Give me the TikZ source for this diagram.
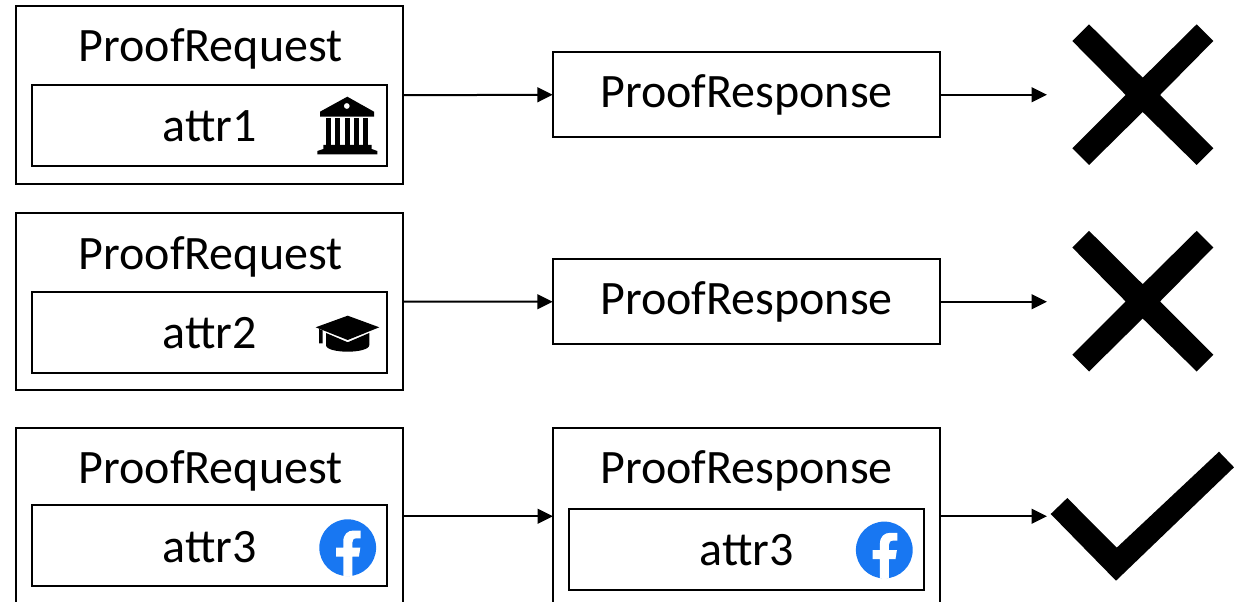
\documentclass[tikz,border=0pt]{standalone}
\usepackage{fontspec}
\setmainfont{Carlito}
\usetikzlibrary{arrows.meta}
\definecolor{fbblue}{RGB}{24,119,242}
\tikzset{
  x=.75pt,y=-.75pt,
  box/.style={draw=black,line width=1.5pt,fill=white,inner sep=0pt,outer sep=0pt},
  outerbox/.style={box,minimum width={387*.75pt},minimum height={177.5*.75pt}},
  innerbox/.style={box,minimum width={355.5*.75pt},minimum height={81*.75pt}},
  respbox/.style={box,minimum width={387.5*.75pt},minimum height={85*.75pt}},
  lbl/.style={anchor=base,inner sep=0pt,font=\fontsize{36}{40}\selectfont},
  conn/.style={line width=1.5pt,-{Triangle[length=11.5pt,width=11pt]}},
  solidmark/.style={fill=black,draw=none},
}
\newcommand{\fbicon}[2]{%
  \begin{scope}[shift={(#1,#2)}]
    \fill[fbblue] (0,0) circle[radius=28.4*.75pt];
    \fill[white] (-4.4,28.6) -- (-4.4,9) -- (-11.7,9) -- (-11.7,0) -- (-4.4,0) -- (-4.4,-6)
      .. controls (-4.4,-13.5) and (0,-17.2) .. (6,-17.2) -- (13,-17.2) -- (13,-9.4) -- (9,-9.4)
      .. controls (5.8,-9.4) and (4.6,-7.7) .. (4.6,-5) -- (4.6,0) -- (12.6,0) -- (11.2,9) -- (4.6,9) -- (4.6,28.6)
      .. controls (1.6,29) and (-1.6,29) .. (-4.4,28.6) -- cycle;
  \end{scope}}
\newcommand{\crossmark}[1]{%
  \fill[solidmark,yshift={-#1*.75pt}] (1089,24.3) -- (1142.7,77.7) -- (1196.7,24.3) -- (1213.3,41) -- (1160,95)
    -- (1213.3,148.3) -- (1196.7,165) -- (1142.7,112) -- (1089,165) -- (1072.3,148.3) -- (1125.7,95)
    -- (1072.3,41) -- cycle;}
\begin{document}
\begin{tikzpicture}
\useasboundingbox (0,0) rectangle (1234,602);
\clip (0,0) rectangle (1234,602);
\fill[white] (0,0) rectangle (1234,602);

% row 1
\node[outerbox] (o1) at (209.25,95.25) {};
\node[innerbox] (i1) at (209.5,125.25) {};
\node[respbox] (r1) at (746.5,94.75) {};
\node[lbl] (t1) at (210.5,62) {ProofRequest};
\node[lbl] (a1) at (209.5,142) {attr1};
\node[lbl] (p1) at (746.5,108) {ProofResponse};
\coordinate (e1) at (1047,94.75);
\draw[conn] (o1.east) -- (r1.west);
\draw[conn] (r1.east) -- (e1);
\crossmark{0}

% row 2
\node[outerbox] (o2) at (209.25,301.5) {};
\node[innerbox] (i2) at (209.5,332.25) {};
\node[respbox] (r2) at (746.5,301.75) {};
\node[lbl] (t2) at (210.5,269) {ProofRequest};
\node[lbl] (a2) at (209.5,348) {attr2};
\node[lbl] (p2) at (746.5,314.5) {ProofResponse};
\coordinate (e2) at (1047,301.75);
\draw[conn] (o2.east) -- (r2.west);
\draw[conn] (r2.east) -- (e2);
\crossmark{206.5}

% row 3
\node[outerbox] (o3) at (209.25,516.25) {};
\node[innerbox] (i3) at (209.5,545.75) {};
\node[outerbox] (r3) at (746.5,516.25) {};
\node[innerbox] (i4) at (746.5,549.5) {};
\node[lbl] (t3) at (210.5,483) {ProofRequest};
\node[lbl] (a3) at (209.5,562) {attr3};
\node[lbl] (p3) at (746.5,483) {ProofResponse};
\node[lbl] (a4) at (746.5,565) {attr3};
\coordinate (e3) at (1047,516.25);
\draw[conn] (o3.east) -- (r3.west);
\draw[conn] (r3.east) -- (e3);
\fill[solidmark] (1050.7,514) -- (1067.3,498) -- (1116.7,547.7) -- (1219,451.7) -- (1234,467.3) -- (1116,580.7) -- cycle;

% bank icon
\fill[solidmark,even odd rule] (347.3,96.7) -- (374,111.7) -- (374,116.7) -- (320,116.7) -- (320,111.7) -- cycle
  (346.8,106) circle[radius=3*.75pt];
\foreach \cx in {328.3,337.5,347,356.2,365.7}
  \fill[solidmark] (\cx-2.5,118.5) rectangle (\cx+2.5,145.5);
\fill[solidmark] (323.3,145) -- (371.7,145) -- (371.7,149) -- (377.3,151) -- (377.3,154.3) -- (317.3,154.3) -- (317.3,151) -- (323.3,149) -- cycle;

% cap icon
\fill[solidmark] (347.7,315.7) -- (379.3,327.3) -- (347.7,340) -- (315.7,327.3) -- cycle;
\fill[solidmark] (326,333) -- (347.7,342.3) -- (369.3,333) -- (369.3,345)
  .. controls (369.3,349.5) and (358,351.7) .. (347.7,351.7)
  .. controls (337,351.7) and (326,349.5) .. (326,345) -- cycle;
\fill[solidmark] (319.2,329) -- (322.7,330.4) -- (322.7,343.3) -- (319.2,343.3) -- cycle;

% facebook icons
\fbicon{347.7}{547.7}
\fbicon{884.3}{550}
\end{tikzpicture}
\end{document}
